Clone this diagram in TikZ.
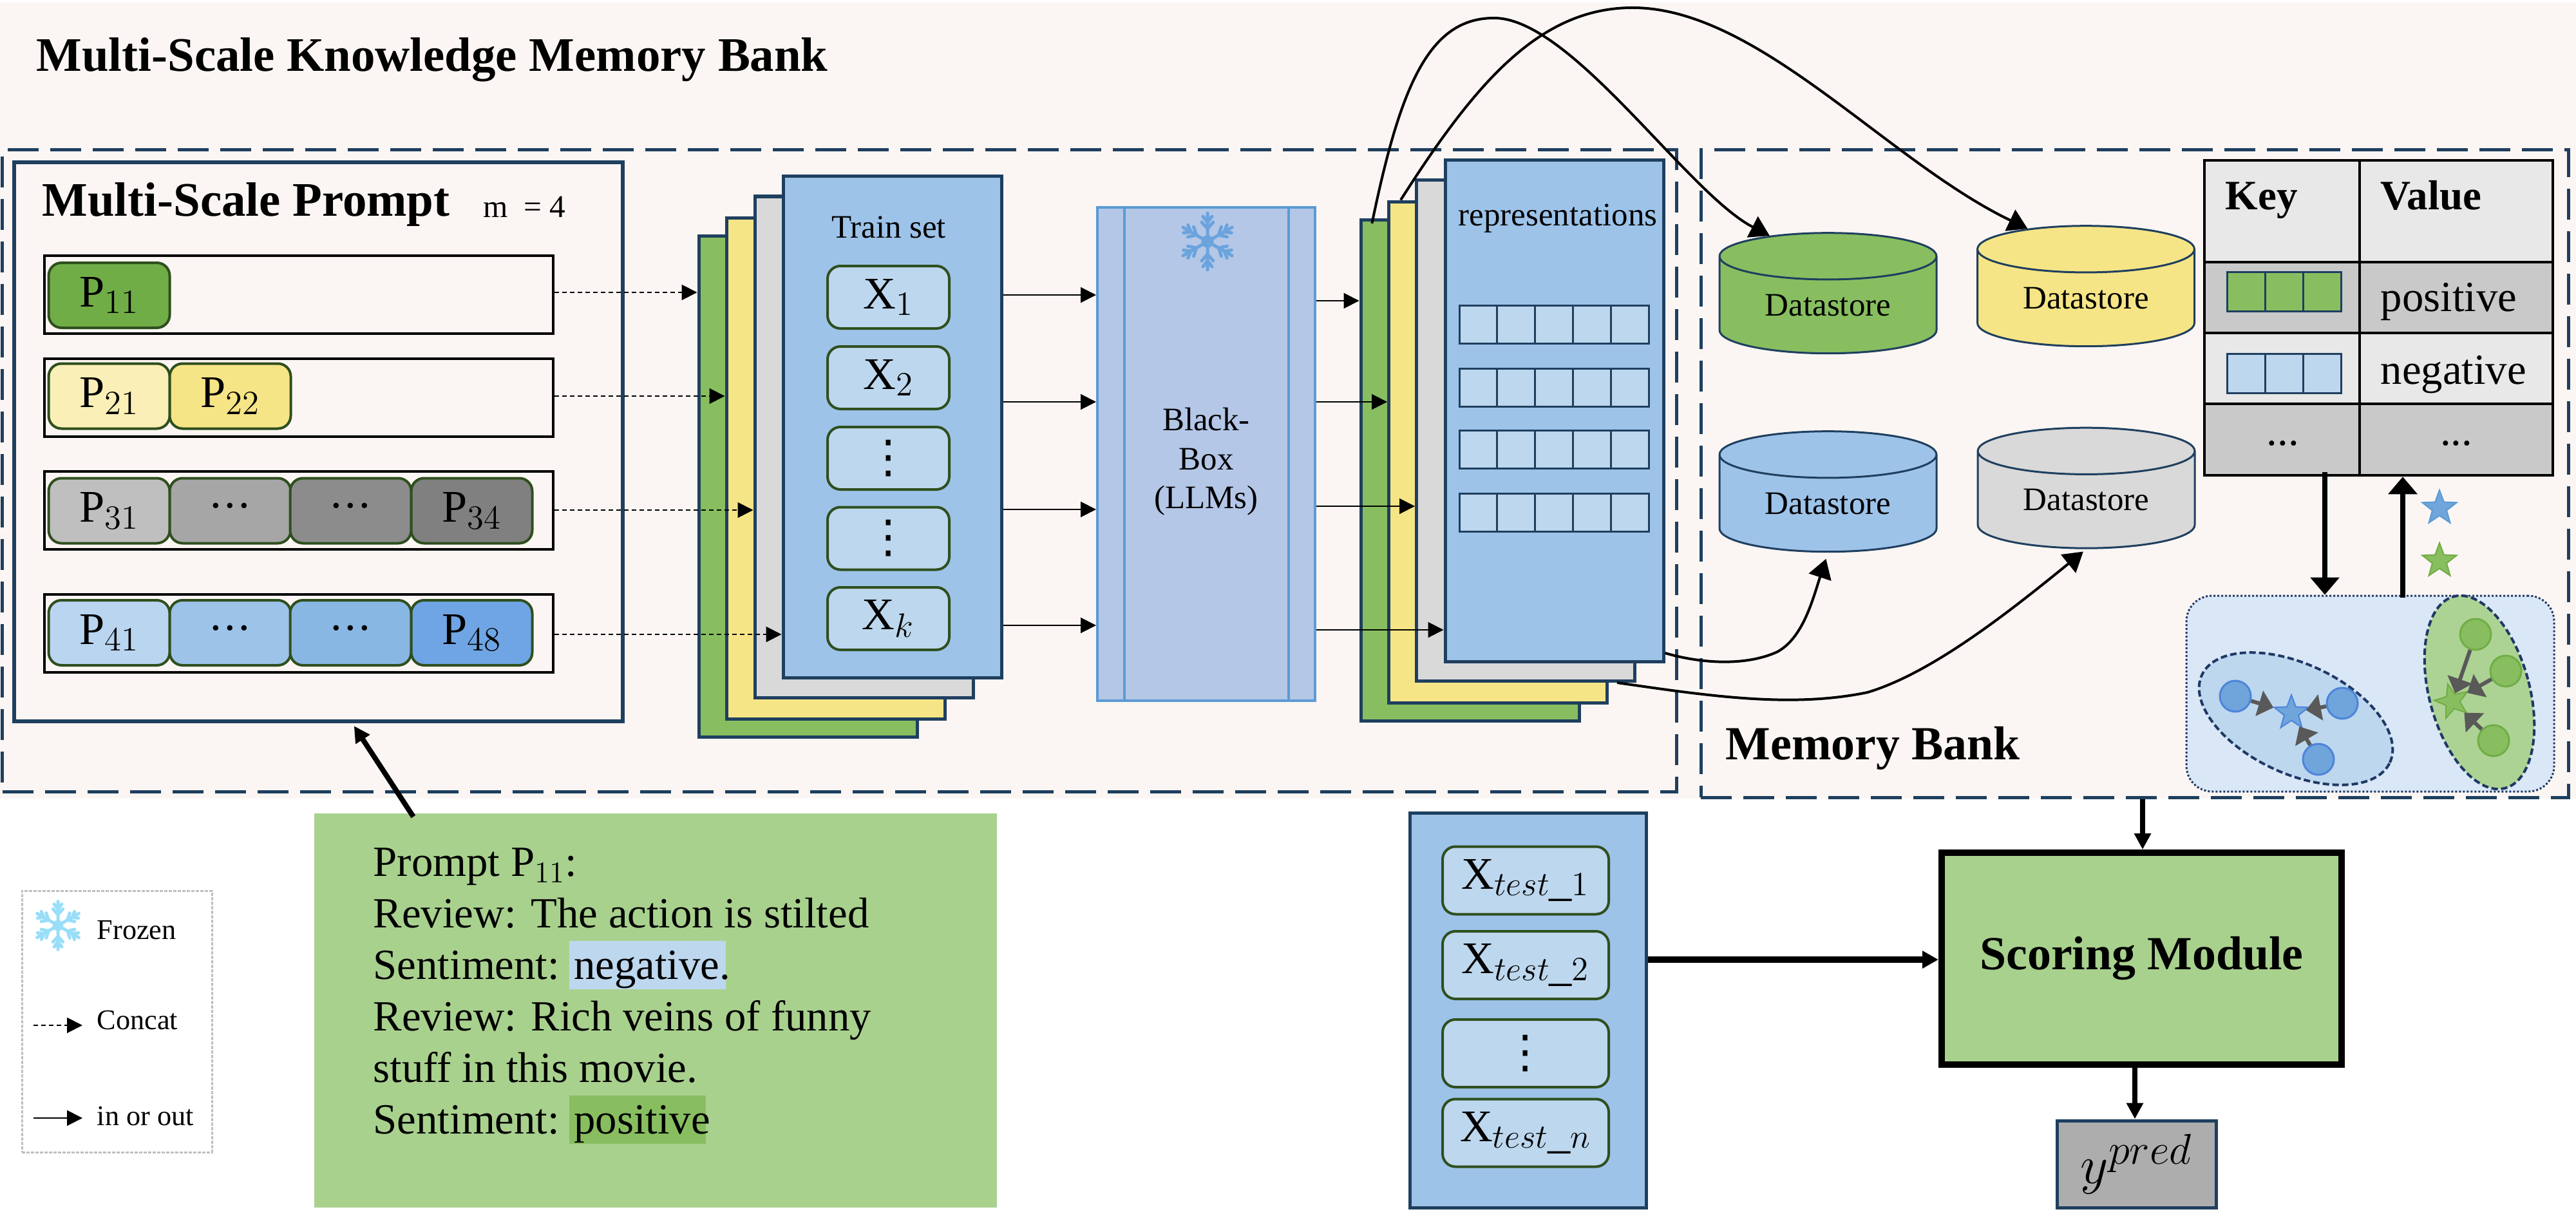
\documentclass[tikz,border=0pt]{standalone}
\usepackage{fix-cm}
\usepackage{fontspec}
\setmainfont{Liberation Serif}
\newfontfamily\symbolfont{DejaVu Sans}
\usetikzlibrary{arrows.meta,shapes.geometric}
\DeclareMathSizes{20}{20}{15}{11}
\DeclareMathSizes{24}{24}{19}{14}
\newcommand{\rowdots}{\raisebox{.22em}{.\kern.06em.\kern.06em.}}
\newcommand{\coldots}{{\symbolfont\fontsize{20}{20}\selectfont ⋮}}
\definecolor{framedark}{HTML}{1F3F5F}
\definecolor{clusterdark}{HTML}{1F3864}
\definecolor{celledge}{HTML}{2F4F1E}
\definecolor{pagepink}{HTML}{FBF6F3}
\definecolor{stackgreen}{HTML}{88BE60}
\definecolor{stackyellow}{HTML}{F6E586}
\definecolor{stackgray}{HTML}{D9D9D9}
\definecolor{stackblue}{HTML}{9DC3E9}
\definecolor{paleblue}{HTML}{BDD7EE}
\definecolor{softgreen}{HTML}{A9D18E}
\definecolor{dotblue}{HTML}{6FA5DA}
\definecolor{dotgreen}{HTML}{88BE60}
\definecolor{boxblue}{HTML}{B4C7E7}
\definecolor{boxedge}{HTML}{5B9BD5}
\definecolor{promptgreen}{HTML}{70AD47}
\definecolor{promptblue}{HTML}{6FA5E4}
\definecolor{clusterfill}{HTML}{DAE7F7}
\tikzset{
	sized/.style 2 args={minimum width=#1cm,minimum height=#2cm,inner sep=0pt},
	layer/.style={draw=framedark,line width=.05cm,sized={3.39}{7.78}},
	band/.style={draw=black,line width=.04cm,fill=pagepink,sized={7.90}{1.21}},
	cell/.style={draw=celledge,line width=.04cm,rounded corners=.2cm,sized={1.88}{1.01},font=\fontsize{20}{24}\selectfont},
	itembox/.style={cell,fill=paleblue,sized={1.89}{.97}},
	testbox/.style={itembox,sized={2.58}{1.05}},
	tinycell/.style={draw=framedark,line width=.03cm,sized={.588}{.59}},
	tablecell/.style={draw=black,line width=.045cm,sized={2.41}{1.10}},
	store/.style={cylinder,shape border rotate=90,aspect=.37,draw=framedark,line width=.03cm,sized={3.37}{1.87},font=\fontsize{14.5}{17}\selectfont},
	dashframe/.style={draw=framedark,line width=.05cm,dash pattern=on .48cm off .18cm},
	bluedot/.style={circle,fill=dotblue,draw=boxedge!85!blue,line width=.03cm,minimum size=.48cm,inner sep=0pt},
	greendot/.style={circle,fill=dotgreen,draw=promptgreen,line width=.03cm,minimum size=.48cm,inner sep=0pt},
	starmark/.style={star,star points=5,star point ratio=2.4,minimum size=.56cm,inner sep=0pt,line width=.02cm},
	thin arrow/.style={-{Triangle[length=.24cm,width=.24cm]},line width=.02cm},
	dash arrow/.style={thin arrow,dash pattern=on .07cm off .05cm},
	curve arrow/.style={-{Triangle[length=.3cm,width=.36cm]},line width=.04cm},
	thick arrow/.style={-{Triangle[length=.27cm,width=.44cm]},line width=.08cm},
	mid arrow/.style={-{Triangle[length=.25cm,width=.25cm]},line width=.08cm},
	cluster arrow/.style={-{Triangle[length=.23cm,width=.40cm]},draw=black!65,line width=.06cm},
	big title/.style={anchor=base west,inner sep=0pt,font=\fontsize{21.3}{26}\selectfont\bfseries},
	label/.style={anchor=base,font=\fontsize{14.5}{17}\selectfont},
	value/.style={anchor=base west,inner sep=0pt,font=\fontsize{19}{23}\selectfont},
	legendtext/.style={anchor=base west,inner sep=0pt,font=\fontsize{12.6}{15}\selectfont},
	flake/.pic={
		\foreach \a in {30,90,...,330} {
			\draw[pic actions,rotate=\a,line width=.05cm,line cap=round] (0,0) -- (.44,0) (.2,0) -- (.3,.09) (.2,0) -- (.3,-.09) (.3,0) -- (.39,.07) (.3,0) -- (.39,-.07);
		}
		\fill[pic actions] (0,0) circle (.09);
	},
}

\begin{document}
\begin{tikzpicture}[x=1cm,y=-1cm]
	\useasboundingbox (0,0) rectangle (40,18.85);
	\node[fill=pagepink,sized={40}{12.36}] (page) at (20,6.22) {};
	\node[big title] (maintitle) at (.56,1.11) {Multi-Scale Knowledge Memory Bank};
	\node[dashframe,sized={25.99}{9.96}] (leftframe) at (13.035,7.31) {};
	\node[dashframe,sized={13.47}{10.05}] (rightframe) at (33.145,7.355) {};
	%
	% prompt panel
	\node[draw=framedark,line width=.06cm,sized={9.45}{8.68}] (promptframe) at (4.945,6.86) {};
	\node[big title] (prompttitle) at (.65,3.36) {Multi-Scale Prompt};
	\node[anchor=base west,inner sep=0pt,font=\fontsize{14}{16}\selectfont] (scale) at (7.50,3.38) {m~~= 4};
	\node[band] (row1) at (4.64,4.575) {};
	\node[band] (row2) at (4.64,6.175) {};
	\node[band] (row3) at (4.64,7.925) {};
	\node[band] (row4) at (4.64,9.83) {};
	\node[cell,fill=promptgreen] (p11) at (1.695,4.585) {$\mathrm{P}_{11}$};
	\node[cell,fill=stackyellow!60!white] (p21) at (1.695,6.15) {$\mathrm{P}_{21}$};
	\node[cell,fill=stackyellow] (p22) at (3.575,6.15) {$\mathrm{P}_{22}$};
	\node[cell,fill=black!25] (p31) at (1.695,7.93) {$\mathrm{P}_{31}$};
	\node[cell,fill=black!35] (p32) at (3.575,7.93) {\rowdots};
	\node[cell,fill=black!45] (p33) at (5.445,7.93) {\rowdots};
	\node[cell,fill=black!50] (p34) at (7.325,7.93) {$\mathrm{P}_{34}$};
	\node[cell,fill=stackblue!70!white] (p41) at (1.695,9.825) {$\mathrm{P}_{41}$};
	\node[cell,fill=stackblue] (p42) at (3.575,9.825) {\rowdots};
	\node[cell,fill=stackblue!70!boxedge] (p43) at (5.445,9.825) {\rowdots};
	\node[cell,fill=promptblue] (p48) at (7.325,9.825) {$\mathrm{P}_{48}$};
	%
	% train set
	\node[layer,fill=stackgreen] (traingreen) at (12.545,7.55) {};
	\node[layer,fill=stackyellow] (trainyellow) at (12.975,7.27) {};
	\node[layer,fill=stackgray] (traingray) at (13.415,6.94) {};
	\node[layer,fill=stackblue] (trainblue) at (13.855,6.63) {};
	\node[label] (trainlabel) at (13.8,3.70) {Train set};
	\node[itembox] (x1) at (13.795,4.615) {$\mathrm{X}_{1}$};
	\node[itembox] (x2) at (13.795,5.865) {$\mathrm{X}_{2}$};
	\node[itembox] (x3) at (13.795,7.115) {\coldots};
	\node[itembox] (x4) at (13.795,8.36) {\coldots};
	\node[itembox] (xk) at (13.795,9.605) {$\mathrm{X}_{k}$};
	%
	\draw[dash arrow] (row1.east |- 0,4.54) -- (traingreen.west |- 0,4.54);
	\draw[dash arrow] (row2.east |- 0,6.15) -- (trainyellow.west |- 0,6.15);
	\draw[dash arrow] (row3.east |- 0,7.92) -- (traingray.west |- 0,7.92);
	\draw[dash arrow] (row4.east |- 0,9.85) -- (trainblue.west |- 0,9.85);
	%
	% black box
	\node[draw=boxedge,line width=.04cm,fill=boxblue,sized={3.38}{7.66}] (blackbox) at (18.73,7.05) {};
	\draw[draw=boxedge,line width=.04cm] (blackbox.north -| 17.46,0) -- (blackbox.south -| 17.46,0);
	\draw[draw=boxedge,line width=.04cm] (blackbox.north -| 20.01,0) -- (blackbox.south -| 20.01,0);
	\pic[draw=cyan!60!blue!60!white,fill=cyan!60!blue!60!white] (flakeone) at (18.75,3.75) {flake};
	\node[label,anchor=center,align=center,font=\fontsize{14.5}{17.2}\selectfont] (blacklabel) at (18.73,7.17) {Black-\\Box\\(LLMs)};
	%
	\draw[thin arrow] (trainblue.east |- 0,4.58) -- (blackbox.west |- 0,4.58);
	\draw[thin arrow] (trainblue.east |- 0,6.24) -- (blackbox.west |- 0,6.24);
	\draw[thin arrow] (trainblue.east |- 0,7.91) -- (blackbox.west |- 0,7.91);
	\draw[thin arrow] (trainblue.east |- 0,9.71) -- (blackbox.west |- 0,9.71);
	%
	% representations
	\node[layer,fill=stackgreen] (reprgreen) at (22.825,7.305) {};
	\node[layer,fill=stackyellow] (repryellow) at (23.26,7.02) {};
	\node[layer,fill=stackgray] (reprgray) at (23.69,6.685) {};
	\node[layer,fill=stackblue] (reprblue) at (24.135,6.38) {};
	\node[label] (reprlabel) at (24.19,3.50) {representations};
	\foreach \y [count=\i] in {5.035,6.015,6.98,7.96}
		\foreach \x [count=\j] in {22.954,23.542,24.13,24.718,25.306}
			\node[tinycell,fill=paleblue] (repr\i\j) at (\x,\y) {};
	%
	\draw[thin arrow] (blackbox.east |- 0,4.67) -- (reprgreen.west |- 0,4.67);
	\draw[thin arrow] (blackbox.east |- 0,6.24) -- (repryellow.west |- 0,6.24);
	\draw[thin arrow] (blackbox.east |- 0,7.86) -- (reprgray.west |- 0,7.86);
	\draw[thin arrow] (blackbox.east |- 0,9.78) -- (reprblue.west |- 0,9.78);
	%
	% datastores
	\node[store,fill=stackgreen] (storegreen) at (28.385,4.74) {Datastore};
	\node[store,fill=stackyellow] (storeyellow) at (32.39,4.63) {Datastore};
	\node[store,fill=stackblue] (storeblue) at (28.385,7.82) {Datastore};
	\node[store,fill=stackgray] (storegray) at (32.395,7.765) {Datastore};
	%
	\draw[curve arrow,shorten <=-.08cm] (reprgreen.north -| 21.32,0) .. controls (21.75,1.30) and (22.20,.28) .. (23.20,.28) .. controls (24.40,.28) and (26.20,3.00) .. (storegreen.130);
	\draw[curve arrow] (repryellow.north -| 21.75,0) .. controls (22.90,1.30) and (23.90,.12) .. (25.35,.12) .. controls (27.30,.12) and (29.30,2.50) .. (storeyellow.130);
	\draw[curve arrow,shorten >=.1cm] (reprblue.east |- 0,10.14) .. controls (26.40,10.30) and (27.10,10.35) .. (27.60,10.12) .. controls (28.00,9.90) and (28.15,9.30) .. (storeblue.south);
	\draw[curve arrow,shorten >=.06cm] (reprgray.south -| 25.11,0) .. controls (26.50,10.80) and (27.80,11.00) .. (29.00,10.75) .. controls (30.00,10.45) and (31.20,9.50) .. (storegray.south);
	%
	% key value table
	\node[tablecell,fill=black!9,sized={2.41}{1.58}] (keyhead) at (35.435,3.28) {};
	\node[tablecell,fill=black!9,sized={3.00}{1.58}] (valhead) at (38.14,3.28) {};
	\node[tablecell,fill=black!21] (keypos) at (35.435,4.62) {};
	\node[tablecell,fill=black!21,sized={3.00}{1.10}] (valpos) at (38.14,4.62) {};
	\node[tablecell,fill=black!9] (keyneg) at (35.435,5.72) {};
	\node[tablecell,fill=black!9,sized={3.00}{1.10}] (valneg) at (38.14,5.72) {};
	\node[tablecell,fill=black!21,sized={2.41}{1.11}] (keydots) at (35.435,6.825) {};
	\node[tablecell,fill=black!21,sized={3.00}{1.11}] (valdots) at (38.14,6.825) {};
	\node[value,font=\fontsize{18.5}{22}\selectfont\bfseries] (keytext) at (34.55,3.26) {Key};
	\node[value,font=\fontsize{18.5}{22}\selectfont\bfseries] (valtext) at (36.96,3.26) {Value};
	\node[value] (postext) at (36.96,4.84) {positive};
	\node[value] (negtext) at (36.96,5.96) {negative};
	\node[value,anchor=base] (keydottext) at (35.45,6.91) {...};
	\node[value,anchor=base] (valdottext) at (38.14,6.91) {...};
	\foreach \x [count=\j] in {34.877,35.47,36.063} {
		\node[tinycell,fill=stackgreen,sized={.593}{.61}] (keya\j) at (\x,4.525) {};
		\node[tinycell,fill=paleblue,sized={.593}{.61}] (keyb\j) at (\x,5.795) {};
	}
	%
	% clusters
	\node[draw=clusterdark,line width=.03cm,dash pattern=on .03cm off .03cm,fill=clusterfill,rounded corners=.4cm,sized={5.71}{3.04}] (cluster) at (36.805,10.77) {};
	\node[ellipse,draw=clusterdark,line width=.04cm,dash pattern=on .1cm off .05cm,fill=paleblue,sized={3.22}{1.70},rotate=-25] (blueset) at (35.65,11.16) {};
	\node[ellipse,draw=clusterdark,line width=.04cm,dash pattern=on .1cm off .05cm,fill=softgreen!95!white,sized={1.56}{3.08},rotate=15] (greenset) at (38.50,10.75) {};
	\node[bluedot] (b1) at (34.71,10.81) {};
	\node[bluedot] (b2) at (36.37,10.92) {};
	\node[bluedot] (b3) at (36.00,11.79) {};
	\node[starmark,fill=dotblue,draw=boxedge!85!blue] (bcenter) at (35.58,11.07) {};
	\node[greendot] (g1) at (38.44,9.85) {};
	\node[greendot] (g2) at (38.91,10.42) {};
	\node[greendot] (g3) at (38.72,11.50) {};
	\node[starmark,fill=dotgreen,draw=promptgreen,rotate=15] (gcenter) at (38.08,10.89) {};
	\draw[cluster arrow] (b1) -- (bcenter);
	\draw[cluster arrow] (b2) -- (bcenter);
	\draw[cluster arrow] (b3) -- (bcenter);
	\draw[cluster arrow] (g1) -- (gcenter);
	\draw[cluster arrow] (g2) -- (gcenter);
	\draw[cluster arrow] (g3) -- (gcenter);
	\node[starmark,fill=dotblue,draw=boxedge] (bluemark) at (37.88,7.89) {};
	\node[starmark,fill=dotgreen,draw=promptgreen] (greenmark) at (37.88,8.71) {};
	\draw[thick arrow,shorten <=-.07cm] (keydots.south -| 36.10,0) -- (cluster.north -| 36.10,0);
	\draw[thick arrow,shorten <=-.04cm] (cluster.north -| 37.31,0) -- (valdots.south -| 37.31,0);
	\node[big title,font=\fontsize{21}{25}\selectfont\bfseries] (banktitle) at (26.79,11.79) {Memory Bank};
	%
	% legend
	\node[draw=black!25,line width=.03cm,dash pattern=on .05cm off .02cm,sized={2.95}{4.06}] (legend) at (1.815,15.86) {};
	\pic[draw=cyan!40!white,fill=cyan!40!white,scale=.85] (flaketwo) at (.90,14.37) {flake};
	\node[legendtext] (frozen) at (1.50,14.58) {Frozen};
	\node[legendtext] (concat) at (1.50,15.98) {Concat};
	\node[legendtext] (inout) at (1.50,17.47) {in or out};
	\coordinate (dashstart) at (.52,15.92);
	\coordinate (dashend) at (1.28,15.92);
	\coordinate (solidstart) at (.52,17.36);
	\coordinate (solidend) at (1.28,17.36);
	\draw[dash arrow] (dashstart) -- (dashend);
	\draw[thin arrow] (solidstart) -- (solidend);
	%
	% prompt example
	\node[fill=softgreen,sized={10.60}{6.12}] (example) at (10.18,15.69) {};
	\node[fill=paleblue,sized={2.43}{.75}] (negmark) at (10.055,14.985) {};
	\node[fill=stackgreen,sized={2.12}{.75}] (posmark) at (9.90,17.385) {};
	\node[anchor=north west,inner sep=0pt,align=left,font=\fontsize{19}{22.76}\selectfont] (exampletext) at (5.79,13.16) {Prompt P$_{11}$:\\Review: The action is stilted\\Sentiment: negative.\\Review: Rich veins of funny\\stuff in this movie.\\Sentiment: positive};
	\draw[mid arrow,shorten <=-.07cm,shorten >=.05cm] (example.north -| 6.38,0) -- (promptframe.south -| 5.47,0);
	%
	% test set and scoring
	\node[draw=framedark,line width=.05cm,fill=stackblue,sized={3.67}{6.13}] (testpanel) at (23.725,15.685) {};
	\node[testbox] (t1) at (23.69,13.67) {$\mathrm{X}_{test\_1}$};
	\node[testbox] (t2) at (23.69,14.985) {$\mathrm{X}_{test\_2}$};
	\node[testbox] (t3) at (23.69,16.355) {\coldots};
	\node[testbox] (tn) at (23.69,17.59) {$\mathrm{X}_{test\_n}$};
	\node[draw=black,line width=.10cm,fill=softgreen,sized={6.21}{3.29},font=\fontsize{21}{25}\selectfont\bfseries] (scoring) at (33.255,14.885) {Scoring Module};
	\node[draw=framedark,line width=.05cm,fill=black!32,sized={2.47}{1.35},font=\fontsize{24}{28}\selectfont] (ypred) at (33.175,18.075) {$y^{pred}$};
	\draw[-{Triangle[length=.25cm,width=.26cm]},line width=.095cm] (testpanel.east |- 0,14.90) -- (scoring.west |- 0,14.90);
	\draw[mid arrow] (rightframe.south -| 33.27,0) -- (scoring.north -| 33.27,0);
	\draw[mid arrow] (scoring.south -| 33.15,0) -- (ypred.north -| 33.15,0);
\end{tikzpicture}
\end{document}
